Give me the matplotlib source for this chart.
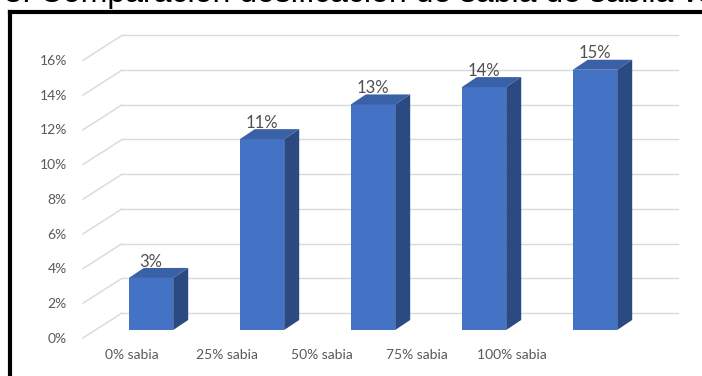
import matplotlib.pyplot as plt
from matplotlib.patches import Polygon
from matplotlib.lines import Line2D

# data
categorias = ["0% sabia", "25% sabia", "50% sabia", "75% sabia", "100% sabia"]
valores = [3, 11, 13, 14, 15]
ticks_y = [0, 2, 4, 6, 8, 10, 12, 14, 16]
titulo = "Gráfico 3. Comparación dosificación de sabia de sabila vs. testigo"

W, H = 702, 376
fig = plt.figure(figsize=(W / 100, H / 100), dpi=100)
ax = fig.add_axes([0, 0, 1, 1])

# escala: pixel de la categoria 0, px por categoria, pixel del 0%, px por 1%
X0, DX = 151, 111
Y0, DY = 46, 17.35
ax.set_xlim(-X0 / DX, (W - X0) / DX)
ax.set_ylim(-Y0 / DY, (H - Y0) / DY)
ax.axis("off")

# profundidad 3D
ddx, ddy = 15 / DX, 10 / DY
ancho = 0.4
gx0, gx1 = -0.261, 4.748   # pared del fondo
fx0 = -0.613               # plano frontal (pared lateral)

# grid en perspectiva
for t in ticks_y:
    ax.plot([gx0, gx1], [t + 0.98, t + 0.98], color="#d9d9d9", lw=1.0, zorder=1)
    ax.plot([fx0, gx0], [t - 0.46, t + 0.98], color="#d9d9d9", lw=1.0, zorder=1)
    ax.text(-0.757, t - 0.5, f"{t}%", ha="right", va="center",
            fontsize=10, color="#595959", family="Lato")

# barras 3D
xs = list(range(len(valores)))
ax.bar(xs, valores, width=ancho, color="#4472C4", zorder=3)
for x, v in zip(xs, valores):
    l, r = x - ancho / 2, x + ancho / 2
    top = Polygon([(l, v), (r, v), (r + ddx, v + ddy), (l + ddx, v + ddy)],
                  closed=True, facecolor="#3a60a8", edgecolor="none", zorder=3)
    side = Polygon([(r, 0), (r + ddx, ddy), (r + ddx, v + ddy), (r, v)],
                   closed=True, facecolor="#2c4a82", edgecolor="none", zorder=3)
    ax.add_patch(top)
    ax.add_patch(side)
    ax.text(x, v + ddy + 0.08, f"{v}%", ha="center", va="baseline",
            fontsize=12, color="#505050", family="Lato", zorder=4)

# etiquetas de categoria (plano frontal)
for i, c in enumerate(categorias):
    ax.text((132 + 95 * i - X0) / DX, -1.44, c, ha="center", va="center",
            fontsize=10, color="#595959", family="Lato")

# marco negro
fig.add_artist(Line2D([10 / W, 10 / W], [-0.05, 1 - 11.5 / H], transform=fig.transFigure,
                      color="black", lw=3, solid_capstyle="projecting"))
fig.add_artist(Line2D([10 / W, 1.05], [1 - 11.5 / H, 1 - 11.5 / H], transform=fig.transFigure,
                      color="black", lw=3, solid_capstyle="projecting"))

# titulo recortado arriba (como en la imagen original)
pre = "Gráfico 3. "
fig.canvas.draw()
r = fig.canvas.get_renderer()
tmp = fig.text(0, 0, pre, fontsize=23, family="Liberation Sans")
wpre = tmp.get_window_extent(r).width
tmp.remove()
fig.text((40 - wpre) / W, 1 - 2 / H, titulo, fontsize=23, family="Liberation Sans",
         ha="left", va="baseline", color="black")

fig.savefig("out.png", dpi=100)
